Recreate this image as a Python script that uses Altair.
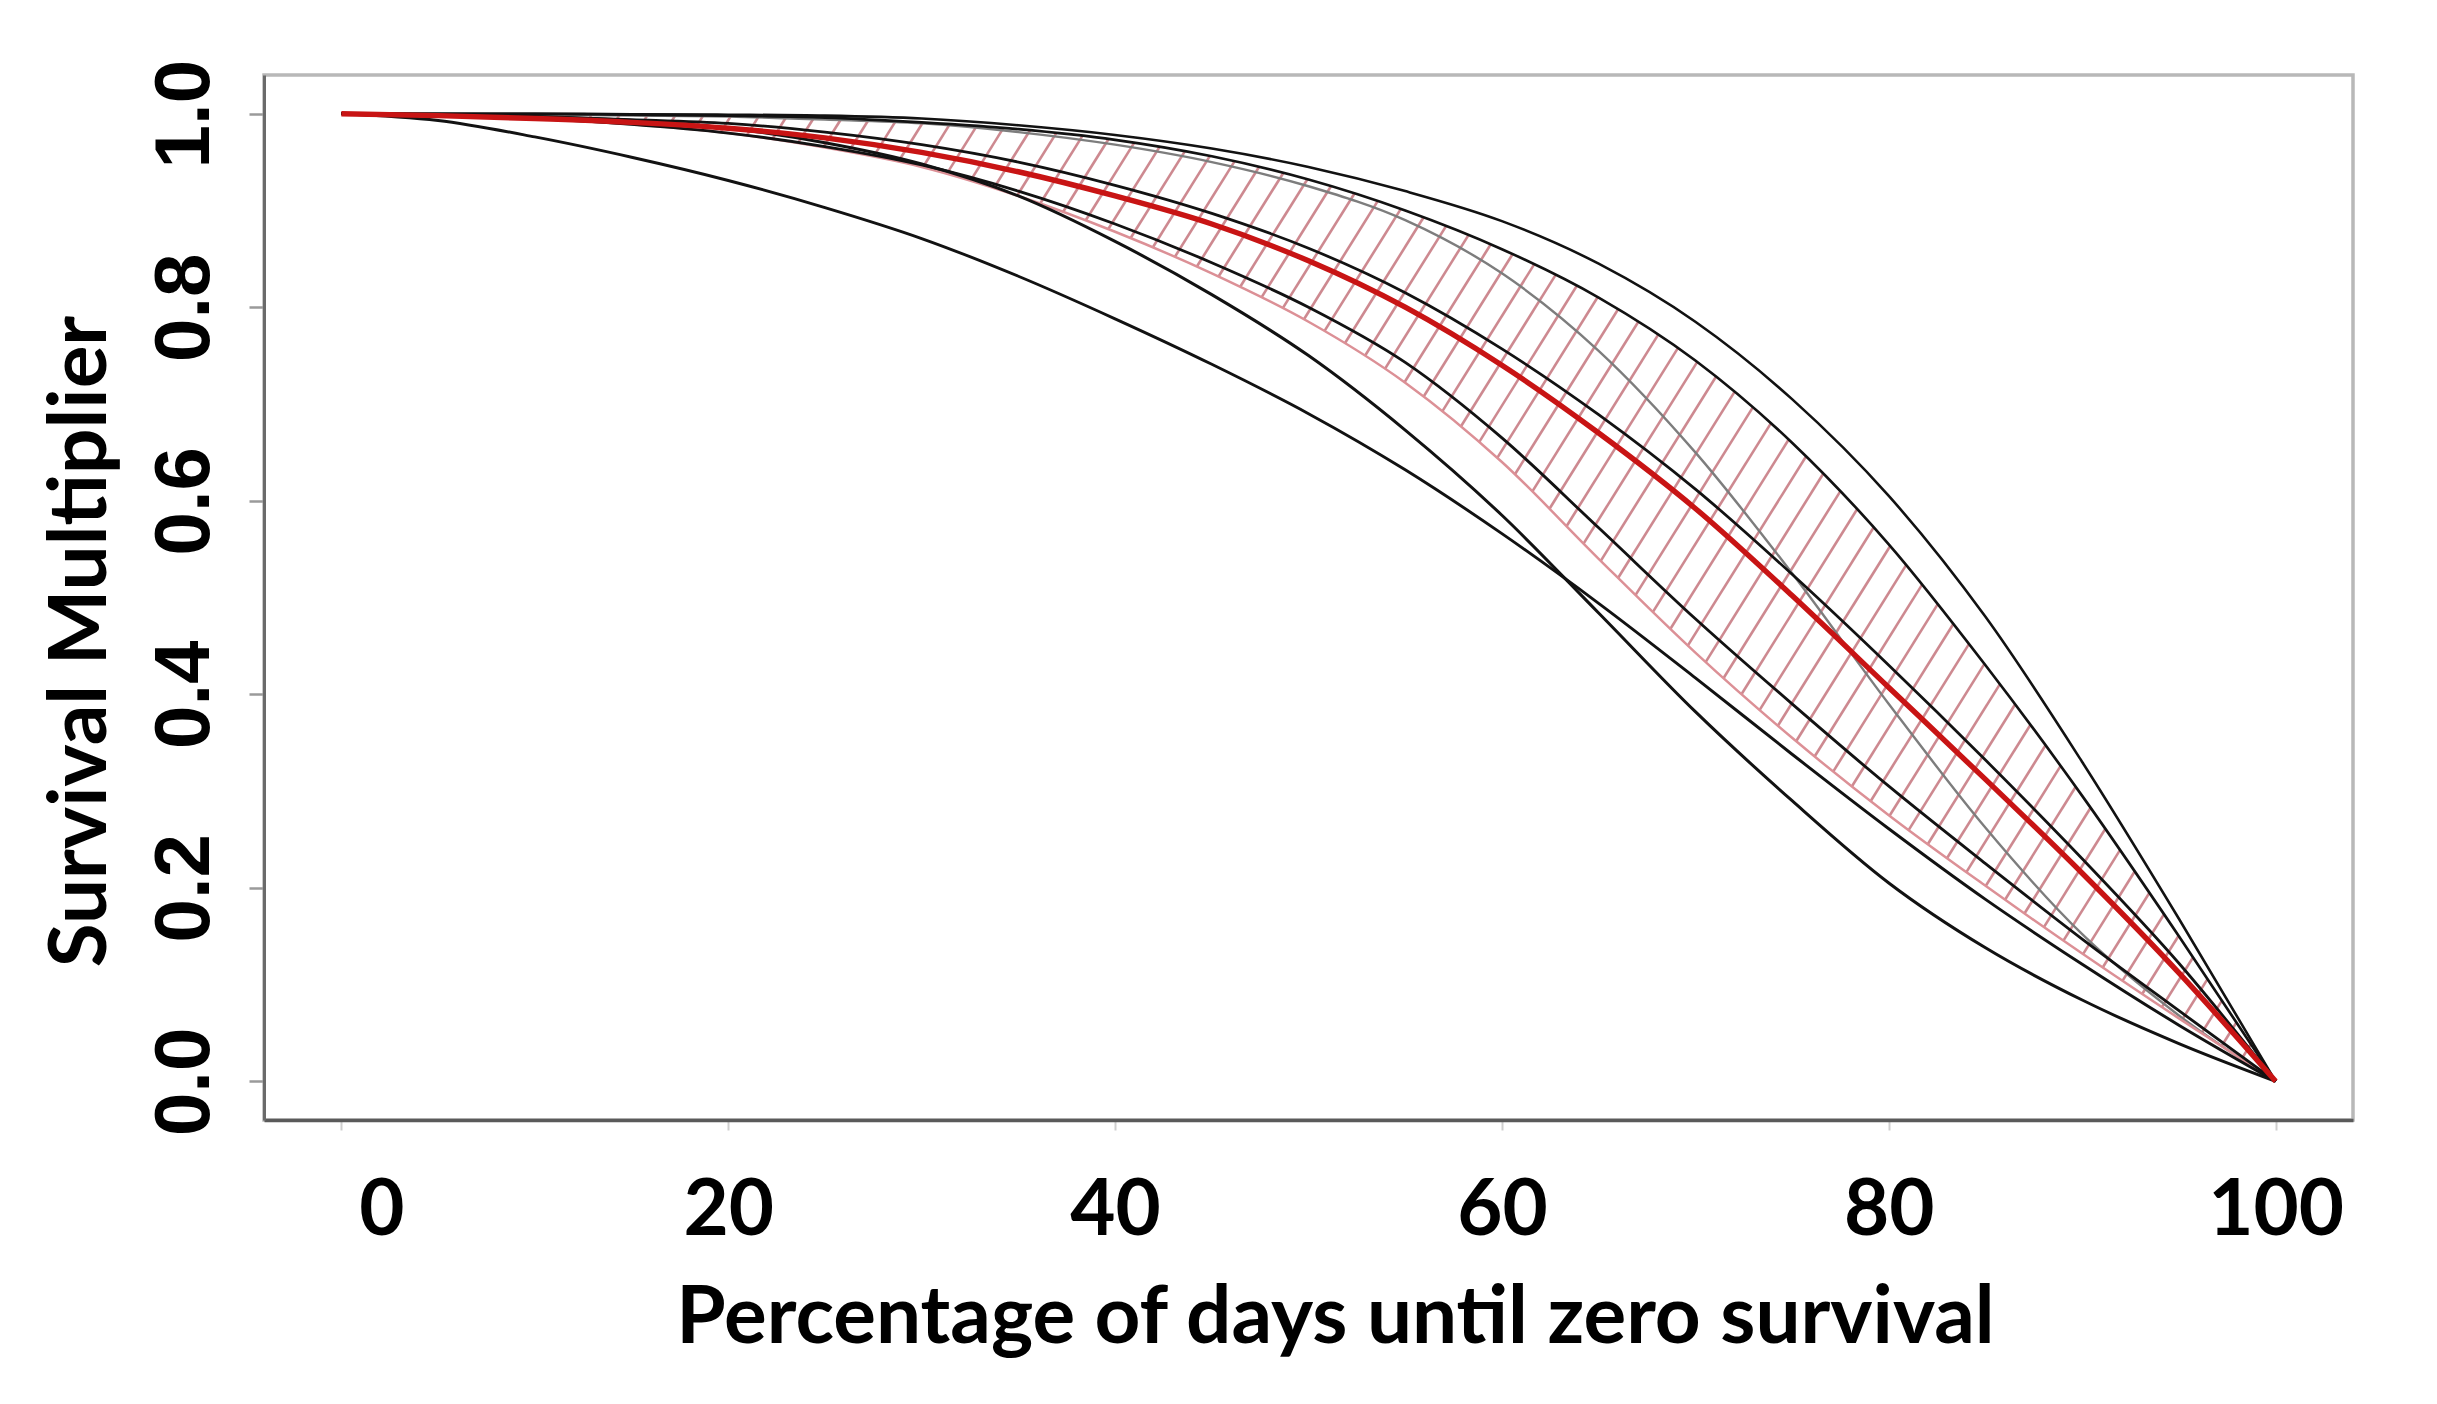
import numpy as np
import pandas as pd
import altair as alt

# ---------------- data ----------------
x_pts = [0, 5, 10, 15, 20, 25, 30, 35, 40, 45, 50, 55, 60, 65, 70, 75, 80, 85, 90, 95, 100]

curve_A = [1.0, 1.0, 1.0, 0.9995, 0.999, 0.998, 0.995, 0.988, 0.978, 0.964, 0.945, 0.92, 0.889, 0.845, 0.785, 0.705, 0.605, 0.48, 0.33, 0.168, 0.0]
curve_B = [1.0, 1.0, 1.0, 0.999, 0.998, 0.996, 0.991, 0.984, 0.973, 0.956, 0.932, 0.9, 0.86, 0.81, 0.745, 0.66, 0.555, 0.43, 0.295, 0.15, 0.0]
curve_G = [1.0, 1.0, 0.999, 0.998, 0.997, 0.994, 0.99, 0.981, 0.968, 0.95, 0.925, 0.89, 0.835, 0.755, 0.65, 0.525, 0.39, 0.262, 0.152, 0.068, 0.0]
curve_K0 = [1.0, 0.999, 0.997, 0.994, 0.99, 0.981, 0.968, 0.95, 0.926, 0.897, 0.861, 0.815, 0.757, 0.689, 0.612, 0.524, 0.43, 0.332, 0.23, 0.122, 0.0]
curve_R = [1.0, 0.998, 0.995, 0.991, 0.985, 0.975, 0.96, 0.94, 0.915, 0.886, 0.848, 0.8, 0.74, 0.67, 0.592, 0.502, 0.407, 0.312, 0.215, 0.112, 0.0]
curve_K1 = [1.0, 0.998, 0.995, 0.989, 0.98, 0.966, 0.947, 0.92, 0.886, 0.846, 0.8, 0.743, 0.665, 0.572, 0.478, 0.39, 0.305, 0.225, 0.147, 0.073, 0.0]
curve_P = [1.0, 0.998, 0.995, 0.989, 0.98, 0.965, 0.945, 0.915, 0.878, 0.835, 0.785, 0.722, 0.64, 0.54, 0.443, 0.355, 0.275, 0.202, 0.132, 0.065, 0.0]
curve_L1 = [1.0, 0.993, 0.976, 0.955, 0.931, 0.903, 0.871, 0.832, 0.788, 0.741, 0.69, 0.632, 0.566, 0.494, 0.417, 0.338, 0.261, 0.188, 0.121, 0.058, 0.0]
curve_L2 = [1.0, 0.999, 0.997, 0.993, 0.985, 0.97, 0.948, 0.915, 0.868, 0.813, 0.75, 0.673, 0.585, 0.484, 0.382, 0.29, 0.205, 0.138, 0.084, 0.039, 0.0]

x_ticks = [0, 20, 40, 60, 80, 100]
y_ticks = [0.0, 0.2, 0.4, 0.6, 0.8, 1.0]

curves = {
    "A": curve_A, "B": curve_B, "G": curve_G, "K0": curve_K0, "R": curve_R,
    "K1": curve_K1, "P": curve_P, "L1": curve_L1, "L2": curve_L2,
}

rows = []
for name, vals in curves.items():
    for xv, yv in zip(x_pts, vals):
        rows.append({"curve": name, "x": xv, "v": yv})
lines_df = pd.DataFrame(rows)

# ---------------- geometry helpers for the hatch ----------------
W, H = 2089, 1045
XDOM = [-4, 104]
YDOM = [-0.04, 1.04]
px_x = W / (XDOM[1] - XDOM[0])
px_y = H / (YDOM[1] - YDOM[0])


def monotone_eval(xs, ys, xq):
    """Evaluate d3 curveMonotoneX (same curve Vega draws) at xq."""
    xs = np.asarray(xs, float)
    ys = np.asarray(ys, float)
    n = len(xs)
    h = np.diff(xs)
    s = np.diff(ys) / h
    t = np.zeros(n)
    for i in range(1, n - 1):
        h0, h1 = h[i - 1], h[i]
        s0, s1 = s[i - 1], s[i]
        p = (s0 * h1 + s1 * h0) / (h0 + h1)
        t[i] = (np.sign(s0) + np.sign(s1)) * min(abs(s0), abs(s1), 0.5 * abs(p))
    t[0] = (3 * s[0] - t[1]) / 2
    t[-1] = (3 * s[-1] - t[-2]) / 2
    xq = np.asarray(xq, float)
    idx = np.clip(np.searchsorted(xs, xq, side="right") - 1, 0, n - 2)
    hh = h[idx]
    u = (xq - xs[idx]) / hh
    y0, y1, m0, m1 = ys[idx], ys[idx + 1], t[idx], t[idx + 1]
    h00 = 2 * u**3 - 3 * u**2 + 1
    h10 = u**3 - 2 * u**2 + u
    h01 = -2 * u**3 + 3 * u**2
    h11 = u**3 - u**2
    return h00 * y0 + h10 * hh * m0 + h01 * y1 + h11 * hh * m1


xf = np.linspace(0, 100, 20001)
low_f = monotone_eval(x_pts, curve_P, xf)
up_f = monotone_eval(x_pts, curve_B, xf)

hatch_slope_px = 1.6
k = hatch_slope_px * px_x / px_y
step = 28 / px_x

hatch_rows = []
for c in np.arange(-40, 100, step):
    line = k * (xf - c)
    f1 = low_f - line
    f2 = up_f - line
    i1 = np.where((f1[:-1] >= 0) & (f1[1:] < 0))[0]
    i2 = np.where((f2[:-1] >= 0) & (f2[1:] < 0))[0]
    if len(i1) == 0 or len(i2) == 0:
        continue
    a, b = i1[0], i2[0]
    x1, y1 = xf[a], low_f[a]
    x2, y2 = xf[b], up_f[b]
    length = np.hypot((x2 - x1) * px_x, (y2 - y1) * px_y)
    if x2 <= x1 or length < 4:
        continue
    hatch_rows.append({"x": x1, "y": y1, "x2": x2, "y2": y2})
hatch_df = pd.DataFrame(hatch_rows)

# ---------------- chart ----------------
x_scale = alt.Scale(domain=XDOM, nice=False, zero=False)
y_scale = alt.Scale(domain=YDOM, nice=False, zero=False)

x_axis = alt.Axis(
    values=x_ticks,
    title="Percentage of days until zero survival",
    titleFont="Lato", titleFontSize=80, titleFontWeight="bold", titleColor="black",
    titleX=1071, titleY=222, titleAlign="center", titleBaseline="alphabetic",
    labelFont="Lato", labelFontSize=78, labelFontWeight="bold", labelColor="black",
    labelBaseline="alphabetic", labelPadding=104, labelFlush=False,
    labelOffset={"condition": {"test": "datum.value == 0", "value": 40}, "value": 0},
    tickSize=10, tickColor="#cfcfcf", tickWidth=2,
    domainColor="#5a5a5a", domainWidth=3.5, grid=False,
)
y_axis = alt.Axis(
    values=y_ticks, format=".1f",
    title="Survival Multiplier",
    titleFont="Lato", titleFontSize=80, titleFontWeight="bold", titleColor="black",
    titleAngle=270, titleX=-183, titleY=566, titleAlign="center", titleBaseline="middle",
    labelFont="Liberation Sans", labelFontSize=78, labelFontWeight="bold", labelColor="black",
    labelAngle=270, labelAlign="center", labelBaseline="alphabetic",
    labelPadding=41, labelFlush=False,
    tickSize=15, tickColor="#9a9a9a", tickWidth=2.5,
    domainColor="#6a6a6a", domainWidth=3, grid=False,
)

hatch = alt.Chart(hatch_df).mark_rule(color="#c4747d", strokeWidth=2.6, opacity=0.85).encode(
    x=alt.X("x:Q", scale=x_scale, axis=x_axis),
    y=alt.Y("y:Q", scale=y_scale, axis=y_axis),
    x2="x2:Q",
    y2="y2:Q",
)

thin_names = ["G", "P"]
thin = alt.Chart(lines_df).transform_filter(
    alt.FieldOneOfPredicate(field="curve", oneOf=thin_names)
).mark_line(interpolate="monotone").encode(
    x=alt.X("x:Q", scale=x_scale),
    y=alt.Y("v:Q", scale=y_scale),
    detail="curve:N",
    color=alt.Color("curve:N", scale=alt.Scale(domain=thin_names, range=["#7d7d7d", "#dc9096"]), legend=None),
    strokeWidth=alt.StrokeWidth("curve:N", scale=alt.Scale(domain=thin_names, range=[2.4, 3.0]), legend=None),
)

black_names = ["A", "B", "K0", "K1", "L1", "L2"]
black = alt.Chart(lines_df).transform_filter(
    alt.FieldOneOfPredicate(field="curve", oneOf=black_names)
).mark_line(interpolate="monotone", color="#121212").encode(
    x=alt.X("x:Q", scale=x_scale),
    y=alt.Y("v:Q", scale=y_scale),
    detail="curve:N",
    strokeWidth=alt.StrokeWidth("curve:N", scale=alt.Scale(domain=black_names, range=[6.2, 5.2, 4.8, 5.0, 4.8, 4.8]), legend=None),
)

red = alt.Chart(lines_df).transform_filter(
    alt.FieldEqualPredicate(field="curve", equal="R")
).mark_line(interpolate="monotone", color="#c81414", strokeWidth=5.4).encode(
    x=alt.X("x:Q", scale=x_scale),
    y=alt.Y("v:Q", scale=y_scale),
)

chart = alt.layer(hatch, thin, black, red).properties(
    width=W, height=H,
    autosize=alt.AutoSizeParams(type="none"),
    padding={"left": 256, "top": 67, "right": 76, "bottom": 276},
    background="white",
).configure_view(stroke="#b8b8b8", strokeWidth=3.5)

chart.save("out.html", embed_options={"renderer": "svg", "actions": False})
